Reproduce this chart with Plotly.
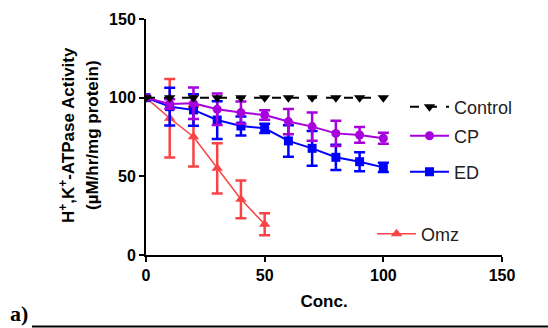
import plotly.graph_objects as go

conc = [0, 10, 20, 30, 40, 50, 60, 70, 80, 90, 100]
omz_conc = [0, 10, 20, 30, 40, 50]

control = [100, 100, 100, 100, 100, 100, 100, 100, 100, 100, 100]
cp = [100, 96, 96.4, 92.6, 90.5, 89, 84.8, 81.6, 77.3, 76.3, 74.2]
cp_err = [0, 3, 10, 10, 7, 3, 8, 9, 8, 5, 3.5]
ed = [100, 94.3, 92.2, 85.8, 82, 80.5, 72.5, 67.8, 62.1, 59.3, 55.7]
ed_err = [0, 12, 10, 12, 6, 3, 10, 11, 8, 6, 3]
omz = [100, 86.9, 75.2, 55.1, 35.4, 19.5]
omz_err = [0, 25, 19, 16, 12, 7]

x_ticks = [0, 50, 100, 150]
y_ticks = [0, 50, 100, 150]

BLACK = "#000000"
PURPLE = "#A800DC"
BLUE = "#0000FF"
RED = "#F84444"

W, H = 548, 328
ARIAL = "Arial, Liberation Sans, sans-serif"
font_b = dict(family=ARIAL, size=17, color="black", weight="bold")

def px(x):
    return x / W

def py(y):
    return 1 - y / H

fig = go.Figure()

def err(vals, color):
    return dict(type="data", array=vals, visible=True, color=color, thickness=2.5, width=5.5)

fig.add_trace(go.Scatter(
    x=omz_conc, y=omz, name="Omz", mode="lines+markers",
    line=dict(color=RED, width=1.5),
    marker=dict(symbol="triangle-up", size=10, color=RED),
    error_y=err(omz_err, RED), legend="legend4"))
fig.add_trace(go.Scatter(
    x=conc, y=ed, name="ED", mode="lines+markers",
    line=dict(color=BLUE, width=2),
    marker=dict(symbol="square", size=9, color=BLUE),
    error_y=err(ed_err, BLUE), legend="legend3"))
fig.add_trace(go.Scatter(
    x=conc, y=cp, name="CP", mode="lines+markers",
    line=dict(color=PURPLE, width=2),
    marker=dict(symbol="circle", size=9, color=PURPLE),
    error_y=err(cp_err, PURPLE), legend="legend2"))
fig.add_trace(go.Scatter(
    x=conc, y=control, name="Control", mode="lines+markers",
    line=dict(color=BLACK, width=2, dash="dash"),
    marker=dict(symbol="triangle-down", size=10, color=BLACK),
    legend="legend"))

def leg(x, y):
    return dict(x=px(x), y=py(y), xref="paper", yref="paper", xanchor="left", yanchor="middle",
                bgcolor="rgba(0,0,0,0)",
                font=dict(family=ARIAL, size=18, color="#222222"),
                itemwidth=39, tracegroupgap=0)

tickfont = dict(family=ARIAL, size=16, color="black", weight="bold")

fig.update_layout(
    width=W, height=H,
    margin=dict(l=0, r=0, t=0, b=0, autoexpand=False),
    paper_bgcolor="white", plot_bgcolor="white",
    showlegend=True,
    legend=leg(405, 107),
    legend2=leg(405, 136),
    legend3=leg(405, 172),
    legend4=leg(372, 234),
    xaxis=dict(domain=[px(146), px(502)], range=[0, 150], tickvals=x_ticks,
               showline=True, linecolor="black", linewidth=2,
               ticks="outside", ticklen=5, tickwidth=2, tickcolor="black",
               showgrid=False, zeroline=False, automargin=False,
               tickfont=tickfont,
               title=dict(text="Conc.", font=font_b, standoff=12)),
    yaxis=dict(domain=[py(255), py(19)], range=[0, 150], tickvals=y_ticks,
               showline=True, linecolor="black", linewidth=2,
               ticks="outside", ticklen=5, tickwidth=2, tickcolor="black",
               showgrid=False, zeroline=False, automargin=False,
               tickfont=tickfont),
)

fig.add_annotation(text="H<sup>+</sup>,K<sup>+</sup>-ATPase Activity", xref="paper", yref="paper",
                   x=px(67), y=py(135), textangle=-90, showarrow=False,
                   xanchor="center", yanchor="middle", font=font_b)
fig.add_annotation(text="(µM/hr/mg protein)", xref="paper", yref="paper",
                   x=px(92), y=py(135), textangle=-90, showarrow=False,
                   xanchor="center", yanchor="middle", font=font_b)

fig.add_annotation(text="<b>a)</b>", xref="paper", yref="paper", x=px(8), y=py(313),
                   xanchor="left", yanchor="middle", showarrow=False,
                   font=dict(family="Liberation Serif, Times New Roman, serif", size=22, color="black"))
fig.add_shape(type="line", xref="paper", yref="paper", x0=px(32), x1=1, y0=py(326.5), y1=py(326.5),
              line=dict(color="black", width=2))

fig.write_html("out.html", post_script="document.body.style.margin='0';",
               config={"displayModeBar": False})
